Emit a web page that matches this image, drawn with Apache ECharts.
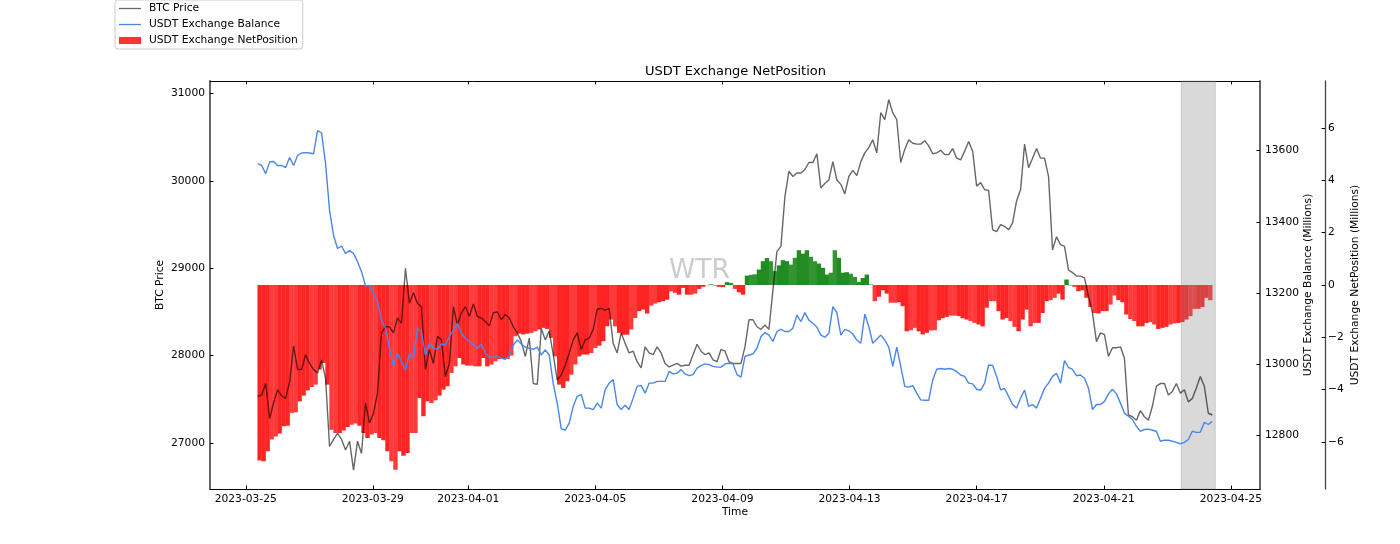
<!DOCTYPE html>
<html>
<head>
<meta charset="utf-8">
<title>USDT Exchange NetPosition</title>
<style>
  html, body { margin: 0; padding: 0; background: #fff; }
  #chart { width: 1400px; height: 544px; }
</style>
<script src="https://cdn.jsdelivr.net/npm/echarts@6/dist/echarts.min.js"></script>
</head>
<body>
<div id="chart"></div>
<script>
// samples, one every 181 minutes from startTime
var startTime = Date.UTC(2023, 2, 25, 9, 0);
var stepMs = 181 * 60 * 1000;

var btcPrice = [
  27530,27550,27680,27280,27460,27610,27540,27510,27700,28110,27840,27840,28010,27910,27840,27800,27950,27740,26960,27040,
  27110,27040,26920,27020,26690,27020,26880,27460,27230,27340,27570,28260,28330,28330,28260,28430,28370,29000,28600,28720,
  28600,28560,27840,28070,27910,28220,28180,27760,27910,28560,28350,28490,28560,28450,28590,28450,28430,28390,28340,28490,
  28500,28410,28470,28430,28330,28260,28160,27990,28200,27680,27670,
  28310,28180,28280,28010,27720,27780,27890,28030,28180,28260,28070,28180,28200,28300,28530,28540,28520,28540,28140,28030,
  28260,28140,28030,28050,27930,27860,28100,28030,28010,28100,28030,27910,27870,27890,27910,27880,27890,27890,28010,28130,
  28050,28010,28030,27950,27930,28070,28050,27930,27910,27910,27910,28100,28410,28410,28330,28300,28350,28300,28750,29190,
  29250,29820,30110,30050,30090,30090,30130,30210,30210,30310,29920,29970,30010,30220,30010,29960,29850,30050,30120,30060,
  30220,30320,30380,30470,30320,30780,30700,30930,30780,30700,30210,30360,30470,30430,30420,30420,30460,30400,30310,30320,
  30350,30300,30300,30370,30260,30240,30340,30450,30340,29940,29980,29900,29890,29440,29420,29500,29480,29440,29520,29770,
  29900,30420,30150,30260,30370,30260,30260,30050,29210,29360,29270,29250,28980,
  28950,28910,28910,28890,28680,28490,28160,28260,28240,27990,28090,28090,28100,27970,27320,27300,27260,27370,27300,27260,
  27420,27650,27680,27680,27550,27590,27680,27570,27610,27470,27510,27630,27760,27650,27340,27320
];

var usdtBalance = [
  13563,13558,13535,13568,13569,13558,13558,13552,13580,13558,13586,13593,13594,13593,13591,13656,13649,13563,13432,13362,
  13325,13332,13311,13319,13311,13288,13260,13220,13221,13199,
  13175,13124,13101,13045,12994,13031,13008,12984,13031,13017,13101,13092,13026,13059,13045,13042,13057,13054,13078,13096,
  13115,13087,13073,13064,13054,13045,13057,13031,13020,13020,13022,13017,13014,13022,13054,13068,13057,13048,13045,13042,13048,
  13026,13040,13026,12945,12891,12819,12815,12835,12882,12910,12915,12877,12877,12873,12891,12877,12929,12947,12957,12887,
  12873,12885,12873,12905,12938,12941,12919,12947,12947,12952,12952,12952,12980,12973,12975,12985,12973,12968,12971,12989,
  12996,13001,12999,12994,12992,12992,13001,13003,13001,12971,12964,13022,13026,13029,13045,13078,13089,13082,13064,13092,
  13098,13092,13092,13101,13138,13120,13145,13124,13115,13104,13082,13076,13087,13162,13145,13082,13098,13094,13085,13068,
  13059,13141,13106,13059,13070,
  13082,13068,13048,12994,13048,12994,12938,12936,12940,12919,12900,12899,12899,12956,12986,12988,12986,12988,12986,12980,
  12970,12966,12947,12945,12930,12927,12947,12998,12997,12966,12928,12932,12910,12887,12877,12905,12928,12882,12887,12877,
  12905,12933,12947,12966,12975,12947,13010,12991,12986,12968,12970,12961,12933,12873,12887,12887,12896,12917,12930,12917,
  12891,12863,12854,12845,12826,12812,12817,12818,12815,12812,12784,12787,12787,12784,12781,12777,12781,12789,12812,12809,
  12809,12837,12831,12840
];

var netPosition = [
  -6.71,-6.74,-6.36,-5.91,-5.79,-5.68,-5.40,-5.38,-4.89,-4.87,-4.45,-4.23,-4.03,-3.90,-3.81,-3.23,-2.98,-3.81,-5.53,-5.66,
  -5.66,-5.56,-5.43,-5.34,-5.30,-5.38,-5.66,-5.85,-5.72,-5.66,-5.85,-5.94,-6.36,-6.74,-7.06,-6.36,-6.53,-6.42,-5.66,-5.66,
  -4.32,-5.02,-4.45,-4.51,-4.41,-4.23,-4.00,-3.87,-3.36,-3.11,-2.79,-3.04,-3.08,-3.08,-3.11,-3.11,-2.79,-3.11,-3.04,-2.92,
  -2.83,-2.83,-2.83,-2.70,-1.96,-1.86,-1.89,-1.86,-1.83,-1.77,-1.70,
  -1.64,-1.68,-2.02,-2.73,-3.81,-3.94,-3.68,-3.43,-3.04,-2.73,-2.66,-2.66,-2.60,-2.41,-2.32,-2.15,-1.58,-1.32,-1.58,-1.83,
  -1.90,-1.90,-1.70,-1.26,-1.00,-0.94,-1.09,-0.79,-0.71,-0.66,-0.62,-0.56,-0.24,-0.30,-0.37,-0.11,-0.37,-0.37,-0.33,-0.15,
  -0.07,-0.01,0.03,-0.02,-0.07,-0.08,0.11,0.08,-0.15,-0.28,-0.37,0.36,0.39,0.41,0.59,0.91,1.03,0.91,0.53,0.75,
  0.95,0.91,0.78,1.04,1.33,1.20,1.33,1.08,0.91,0.82,0.66,0.40,0.47,1.33,1.04,0.47,0.49,0.43,0.31,0.11,
  0.27,0.40,0.02,-0.62,-0.45,
  -0.20,-0.33,-0.68,-0.68,-0.66,-0.81,-1.77,-1.73,-1.64,-1.77,-1.89,-1.83,-1.74,-1.73,-1.35,-1.27,-1.22,-1.17,-1.17,-1.19,
  -1.27,-1.32,-1.38,-1.45,-1.51,-1.58,-0.87,-0.62,-0.62,-1.00,-1.32,-1.26,-1.38,-1.60,-1.77,-1.32,-0.94,-1.58,-1.45,-1.45,
  -1.07,-0.62,-0.58,-0.49,-0.33,-0.56,0.21,-0.02,-0.07,-0.24,-0.20,-0.49,-0.84,-1.07,-1.09,-1.00,-1.00,-0.75,-0.40,-0.58,
  -0.66,-1.13,-1.30,-1.38,-1.58,-1.58,-1.45,-1.42,-1.51,-1.68,-1.64,-1.60,-1.51,-1.47,-1.45,-1.42,-1.32,-1.19,-0.91,-0.91,
  -0.84,-0.49,-0.58
];

var dateTicks = ['2023-03-25','2023-03-29','2023-04-01','2023-04-05','2023-04-09','2023-04-13','2023-04-17','2023-04-21','2023-04-25'];
var btcTicks = [27000,28000,29000,30000,31000];
var balanceTicks = [12800,13000,13200,13400,13600];
var netTicks = [-6,-4,-2,0,2,4,6];
var bandStart = '2023-04-23T10:30:00Z';
var bandEnd = '2023-04-24T12:15:00Z';

var chart = echarts.init(document.getElementById('chart'));
var font = 'DejaVu Sans';
var lineIcon = 'path://M0 0H22V1.3H0Z';

// shift moves a sample along the step, bars start at their time and are not centred on it
function withTime(values, shift) {
  return values.map(function(v, i) {
    return [startTime + (i + (shift || 0)) * stepMs, v];
  });
}

function dayLabel(v) {
  return new Date(v).toISOString().slice(0, 10);
}

var dateTickValues = dateTicks.map(function(d) {
  return Date.parse(d + 'T00:00:00Z');
});

// plain value axis in ms: the time axis breaks on customValues
function timeAxis(pos, showLabel) {
  return {
    type: 'value',
    position: pos,
    scale: true,
    min: Date.UTC(2023, 2, 23, 21, 0),
    max: Date.UTC(2023, 3, 25, 22, 0),
    name: showLabel ? 'Time' : '',
    nameLocation: 'middle',
    nameMoveOverlap: false,
    nameGap: 18,
    nameTextStyle: { fontFamily: font, fontSize: 10.7, color: '#000' },
    splitLine: { show: false },
    axisLine: { onZero: false, lineStyle: { color: '#000', width: 1 } },
    axisTick: { inside: true, length: 3.5, customValues: dateTickValues, lineStyle: { color: '#000' } },
    axisLabel: {
      show: showLabel,
      customValues: dateTickValues,
      formatter: dayLabel,
      margin: 5,
      fontFamily: font,
      fontSize: 10.7,
      color: '#000',
      hideOverlap: false
    }
  };
}

function valueAxis(opt) {
  return {
    type: 'value',
    position: opt.pos,
    offset: opt.offset,
    min: opt.min,
    max: opt.max,
    name: opt.name,
    nameLocation: 'middle',
    nameMoveOverlap: false,
    nameRotate: 90,
    nameGap: opt.gap,
    nameTextStyle: { fontFamily: font, fontSize: 10.7, color: '#000' },
    splitLine: { show: false },
    axisLine: { show: true, onZero: false, lineStyle: { color: opt.lineColor, width: opt.lineWidth } },
    axisTick: { show: true, inside: true, length: 3.5, customValues: opt.ticks, lineStyle: { color: '#000' } },
    axisLabel: {
      customValues: opt.ticks,
      margin: opt.margin,
      fontFamily: font,
      fontSize: 10.7,
      color: '#000',
      formatter: function(v) {
        return String(v).replace('-', '\u2212');
      }
    }
  };
}

var option = {
  animation: false,
  backgroundColor: '#fff',
  title: {
    text: 'USDT Exchange NetPosition',
    left: 645,
    top: 65,
    padding: 0,
    textStyle: { fontFamily: font, fontSize: 13, fontWeight: 'normal', color: '#000' }
  },
  legend: {
    orient: 'vertical',
    left: 115,
    top: 0,
    padding: [3, 5, 3, 4],
    itemWidth: 22,
    itemHeight: 7,
    itemGap: 5,
    backgroundColor: '#fff',
    borderColor: '#ccc',
    borderWidth: 1,
    borderRadius: 3,
    data: [
      { name: 'BTC Price', icon: lineIcon },
      { name: 'USDT Exchange Balance', icon: lineIcon },
      { name: 'USDT Exchange NetPosition', icon: 'rect', itemStyle: { color: 'rgba(255,0,0,0.8)' } }
    ],
    textStyle: { fontFamily: font, fontSize: 10.7, color: '#000', padding: [0, 0, 0, 3] }
  },
  grid: { left: 210, right: 140, top: 81, bottom: 55 },
  xAxis: [timeAxis('bottom', true), timeAxis('top', false)],
  yAxis: [
    valueAxis({ pos: 'left', offset: 0, min: 26473, max: 31143, name: 'BTC Price', gap: 44, ticks: btcTicks, margin: 5, lineColor: '#666', lineWidth: 2 }),
    valueAxis({ pos: 'right', offset: 0, min: 12650, max: 13795, name: 'USDT Exchange Balance (Millions)', gap: 43, ticks: balanceTicks, margin: 5, lineColor: '#666', lineWidth: 2 }),
    valueAxis({ pos: 'right', offset: 65, min: -7.8, max: 7.8, name: 'USDT Exchange NetPosition (Millions)', gap: 24.5, ticks: netTicks, margin: 3, lineColor: '#444', lineWidth: 1.3 })
  ],
  series: [
    {
      name: 'BTC Price',
      type: 'line',
      yAxisIndex: 0,
      z: 4,
      symbol: 'none',
      itemStyle: { color: 'rgba(0,0,0,0.6)' },
      lineStyle: { color: 'rgba(0,0,0,0.6)', width: 1.4 },
      data: withTime(btcPrice)
    },
    {
      name: 'USDT Exchange Balance',
      type: 'line',
      yAxisIndex: 1,
      z: 5,
      symbol: 'none',
      itemStyle: { color: '#4a86e8' },
      lineStyle: { color: '#4a86e8', width: 1.4 },
      data: withTime(usdtBalance)
    },
    {
      name: 'USDT Exchange NetPosition',
      type: 'bar',
      yAxisIndex: 2,
      z: 2,
      barWidth: 4.4,
      itemStyle: {
        // the reference bars overlap, which shows as light and dark bands
        color: function(p) {
          var band = Math.floor(p.dataIndex / 2.5) % 2;
          if (p.value && p.value[1] > 0) {
            return band ? '#349434' : '#228b22';
          }
          return band ? '#ff3a3a' : '#ff2424';
        }
      },
      markArea: {
        silent: true,
        z: 3,
        itemStyle: { color: 'rgba(128,128,128,0.3)', borderColor: 'rgba(128,128,128,0.3)', borderWidth: 1 },
        data: [[{ xAxis: Date.parse(bandStart) }, { xAxis: Date.parse(bandEnd) }]]
      },
      data: withTime(netPosition, 0.5)
    }
  ],
  graphic: [{
    type: 'text',
    left: 669,
    top: 258,
    z: 10,
    style: { text: 'WTR', fontFamily: font, fontSize: 26.5, fill: 'rgba(128,128,128,0.4)' }
  }]
};

chart.setOption(option);
</script>
</body>
</html>
